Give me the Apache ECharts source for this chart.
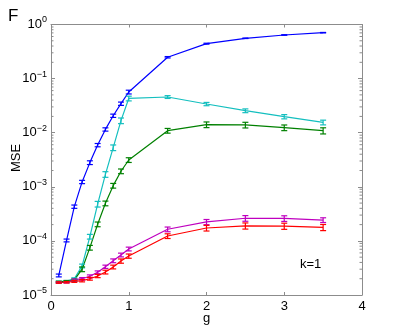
<!DOCTYPE html>
<html><head><meta charset="utf-8">
<script src="https://cdn.jsdelivr.net/npm/echarts@6/dist/echarts.min.js"></script>
<style>html,body{margin:0;padding:0;background:#fff}#c{width:399px;height:332px}</style>
</head><body><div id="c"></div>
<script>
const gVals = [0.1,0.2,0.3,0.4,0.5,0.6,0.7,0.8,0.9,1.0,1.5,2.0,2.5,3.0,3.5];
const blueVals    = [2.3e-5,1.02e-4,4.3e-4,1.23e-3,2.8e-3,5.9e-3,1.15e-2,2.06e-2,3.44e-2,5.65e-2,0.248,0.442,0.556,0.64,0.706];
const cyanVals    = [1.75e-5,1.8e-5,2.0e-5,3.45e-5,1.2e-4,4.8e-4,1.7e-3,5.3e-3,1.67e-2,4.3e-2,4.57e-2,3.39e-2,2.55e-2,1.98e-2,1.55e-2];
const greenVals   = [1.75e-5,1.8e-5,1.9e-5,3.0e-5,7.5e-5,2.03e-4,4.95e-4,1.05e-3,1.94e-3,3.13e-3,1.09e-2,1.41e-2,1.39e-2,1.24e-2,1.09e-2];
const magentaVals = [1.7e-5,1.72e-5,1.9e-5,2.0e-5,2.22e-5,2.63e-5,3.33e-5,4.3e-5,5.5e-5,7.1e-5,1.64e-4,2.24e-4,2.62e-4,2.6e-4,2.43e-4];
const redVals     = [1.7e-5,1.72e-5,1.78e-5,1.84e-5,2.0e-5,2.25e-5,2.66e-5,3.3e-5,4.25e-5,5.25e-5,1.23e-4,1.73e-4,1.9e-4,1.88e-4,1.78e-4];
// relative half-widths of the error bars
const blueErr    = [0.06,0.06,0.07,0.07,0.08,0.07,0.07,0.07,0.07,0.08,0.03,0.02,0.01,0.01,0.01];
const cyanErr    = [0.03,0.03,0.04,0.08,0.10,0.12,0.12,0.12,0.12,0.10,0.06,0.07,0.08,0.09,0.10];
const greenErr   = [0.03,0.03,0.04,0.10,0.10,0.10,0.10,0.10,0.10,0.10,0.10,0.12,0.12,0.12,0.13];
const magentaErr = [0.03,0.03,0.04,0.05,0.06,0.06,0.07,0.08,0.08,0.08,0.10,0.11,0.12,0.12,0.10];
const redErr     = [0.03,0.03,0.04,0.05,0.06,0.07,0.08,0.08,0.09,0.09,0.10,0.12,0.13,0.13,0.13];
const xTicks = [0,1,2,3,4];
const yExps = [-5,-4,-3,-2,-1,0];

const seriesDefs = [
  {name:'blue', vals: blueVals, err: blueErr, color:'#0000ff'},
  {name:'cyan', vals: cyanVals, err: cyanErr, color:'#14bfbf'},
  {name:'green', vals: greenVals, err: greenErr, color:'#008000'},
  {name:'magenta', vals: magentaVals, err: magentaErr, color:'#bf00bf'},
  {name:'red', vals: redVals, err: redErr, color:'#ff0000'}
];

const FONT = 'Liberation Sans';
const AX = '#8c8c8c';
const minorVals = [];
for (let k = -5; k < 0; k++) for (let m = 2; m <= 9; m++) minorVals.push([m * Math.pow(10, k)]);

const series = [];
series.push({
  type:'custom', silent:true, clip:false, z:1,
  data: minorVals,
  renderItem: function(params, api){
    const v = api.value(0);
    const l = api.coord([0, v]);
    const r = api.coord([4, v]);
    return {type:'group', children:[
      {type:'line', shape:{x1:l[0], y1:l[1], x2:l[0]+2.5, y2:l[1]}, style:{stroke:AX, lineWidth:1}},
      {type:'line', shape:{x1:r[0]-2.5, y1:r[1], x2:r[0], y2:r[1]}, style:{stroke:AX, lineWidth:1}}
    ]};
  }
});
seriesDefs.forEach(function(s){
  series.push({
    type:'line', name:s.name, data: gVals.map((g,i)=>[g, s.vals[i]]),
    showSymbol:false, symbol:'none', lineStyle:{color:s.color, width:1.2}, itemStyle:{color:s.color},
    z:3, animation:false
  });
  series.push({
    type:'custom', name:s.name+'err', z:4, clip:false,
    data: gVals.map((g,i)=>[g, s.vals[i]*(1-s.err[i]), s.vals[i]*(1+s.err[i])]),
    renderItem: function(params, api){
      const lo = api.coord([api.value(0), api.value(1)]);
      const hi = api.coord([api.value(0), api.value(2)]);
      const w = 3;
      const st = {stroke:s.color, lineWidth:1.2};
      return {type:'group', children:[
        {type:'line', shape:{x1:lo[0], y1:lo[1], x2:hi[0], y2:hi[1]}, style:st},
        {type:'line', shape:{x1:lo[0]-w, y1:lo[1], x2:lo[0]+w, y2:lo[1]}, style:st},
        {type:'line', shape:{x1:hi[0]-w, y1:hi[1], x2:hi[0]+w, y2:hi[1]}, style:st}
      ]};
    },
    animation:false
  });
});

const chart = echarts.init(document.getElementById('c'), null, {renderer:'canvas'});
chart.setOption({
  animation:false,
  backgroundColor:'#fff',
  grid:{left:51, right:37, top:24.5, bottom:37, containLabel:false},
  xAxis:[
    {type:'value', min:0, max:4, interval:1, position:'bottom',
     axisLine:{show:true, onZero:false, lineStyle:{color:AX, width:1}},
     axisTick:{show:true, inside:true, length:3, lineStyle:{color:AX}},
     axisLabel:{color:'#000', fontFamily:FONT, fontSize:13, margin:5, formatter: v => xTicks.indexOf(v) >= 0 ? String(v) : ''},
     splitLine:{show:false}},
    {type:'value', min:0, max:4, interval:1, position:'top',
     axisLine:{show:true, onZero:false, lineStyle:{color:AX, width:1}},
     axisTick:{show:true, inside:true, length:3, lineStyle:{color:AX}},
     axisLabel:{show:false}, splitLine:{show:false}}
  ],
  yAxis:[
    {type:'log', logBase:10, min:1e-5, max:1, position:'left',
     axisLine:{show:true, onZero:false, lineStyle:{color:AX, width:1}},
     axisTick:{show:true, inside:true, length:4, lineStyle:{color:AX}},
     axisLabel:{color:'#000', fontFamily:FONT, margin:4,
       formatter: function(v){
         const e = Math.round(Math.log10(v));
         if (yExps.indexOf(e) < 0) return '';
         return '{b|10}{e|' + (e < 0 ? '\u2212' + (-e) : e) + '}';
       },
       rich:{ b:{fontSize:13, fontFamily:FONT, color:'#000'},
              e:{fontSize:9, fontFamily:FONT, color:'#000', padding:[0,0,9,0]} }
     },
     splitLine:{show:false}},
    {type:'log', logBase:10, min:1e-5, max:1, position:'right',
     axisLine:{show:true, onZero:false, lineStyle:{color:AX, width:1}},
     axisTick:{show:true, inside:true, length:4, lineStyle:{color:AX}},
     axisLabel:{show:false}, splitLine:{show:false}}
  ],
  series: series,
  graphic:[
    {type:'text', left:8, top:8, style:{text:'F', fontFamily:FONT, fontSize:17, fill:'#000'}},
    {type:'text', x:16, y:158, rotation:Math.PI/2, style:{text:'MSE', fontFamily:FONT, fontSize:13, fill:'#000', align:'center', verticalAlign:'middle'}},
    {type:'text', x:206.5, y:318, style:{text:'g', fontFamily:FONT, fontSize:13, fill:'#000', align:'center', verticalAlign:'middle'}},
    {type:'text', x:300, y:264, style:{text:'k=1', fontFamily:FONT, fontSize:13, fill:'#000', align:'left', verticalAlign:'middle'}}
  ]
});
</script></body></html>
